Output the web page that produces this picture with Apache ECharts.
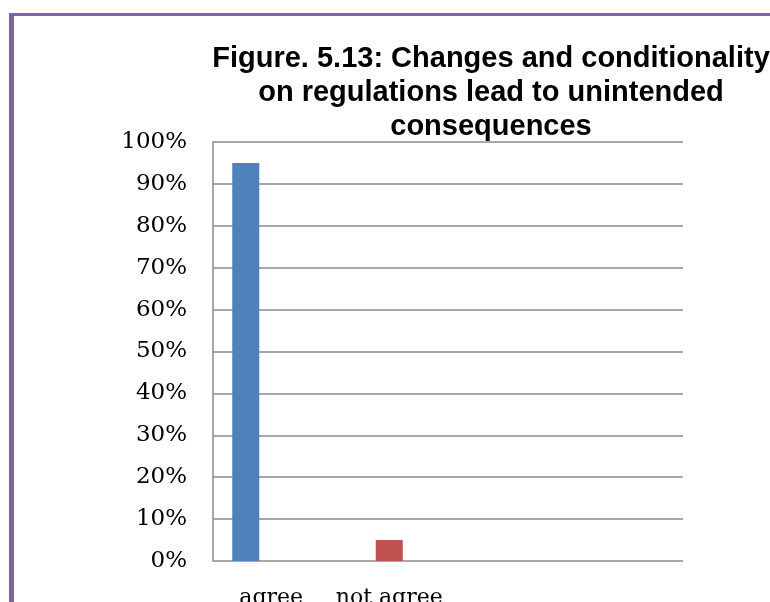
<!DOCTYPE html>
<html>
<head>
<meta charset="utf-8">
<style>
  html, body { margin: 0; padding: 0; background: #fff; }
  #chart { width: 770px; height: 602px; }
</style>
<script src="https://cdn.jsdelivr.net/npm/echarts@6/dist/echarts.min.js"></script>
</head>
<body>
<div id="chart"></div>
<script>
// Survey responses, percent of respondents
const categories = ['agree', 'not agree'];
const values = [95, 5];
const barColors = ['#4F81BD', '#C0504D'];
const yTicks = { min: 0, max: 100, interval: 10 };
const titleText = 'Figure. 5.13: Changes and conditionality\non regulations lead to unintended\nconsequences';

const chart = echarts.init(document.getElementById('chart'));
const gridTop = 142, gridBottom = 41;

chart.setOption({
  animation: false,
  backgroundColor: '#ffffff',
  title: {
    text: titleText,
    left: 486,
    top: 37,
    textAlign: 'center',
    textStyle: {
      fontFamily: '"Liberation Sans", Arial, sans-serif',
      fontWeight: 'bold',
      fontSize: 29,
      lineHeight: 34,
      color: '#000'
    }
  },
  graphic: [
    // frame around the figure (top and left edges)
    { type: 'rect', shape: { x: 9, y: 13, width: 761, height: 3 }, style: { fill: '#8064A2' }, silent: true },
    { type: 'rect', shape: { x: 9, y: 13, width: 5, height: 589 }, style: { fill: '#8064A2' }, silent: true }
  ],
  grid: [
    // value axis and gridlines
    { left: 213, right: 87, top: gridTop, bottom: gridBottom, outerBoundsMode: 'none' },
    // bar layout
    { left: 174, right: 309, top: gridTop, bottom: gridBottom, outerBoundsMode: 'none' }
  ],
  xAxis: [
    { gridIndex: 0, type: 'category', data: categories, show: false },
    {
      gridIndex: 1,
      type: 'category',
      data: categories,
      axisLine: { show: false },
      axisTick: { show: false },
      axisLabel: {
        interval: 0,
        hideOverlap: false,
        margin: 26,
        fontFamily: '"DejaVu Serif", serif',
        fontSize: 22,
        color: '#000',
        formatter: function (v) {
          return v === 'agree' ? '{shift|' + v + '}' : v;
        },
        rich: {
          shift: { fontFamily: '"DejaVu Serif", serif', fontSize: 22, color: '#000', padding: [0, 0, 0, 51] }
        }
      }
    }
  ],
  yAxis: [
    {
      gridIndex: 0,
      type: 'value',
      min: yTicks.min,
      max: yTicks.max,
      interval: yTicks.interval,
      axisLine: { show: true, lineStyle: { color: '#8a8a8a', width: 1.5 } },
      axisTick: { show: false },
      splitLine: { show: true, lineStyle: { color: '#8a8a8a', width: 1.5 } },
      axisLabel: {
        margin: 26,
        fontFamily: '"DejaVu Serif", serif',
        fontSize: 23,
        color: '#000',
        formatter: '{value}%'
      }
    },
    {
      gridIndex: 1,
      type: 'value',
      min: yTicks.min,
      max: yTicks.max,
      interval: yTicks.interval,
      show: false
    }
  ],
  series: [
    {
      type: 'bar',
      xAxisIndex: 1,
      yAxisIndex: 1,
      barWidth: 27,
      data: values.map((v, i) => ({ value: v, itemStyle: { color: barColors[i] } }))
    }
  ]
});
</script>
</body>
</html>
